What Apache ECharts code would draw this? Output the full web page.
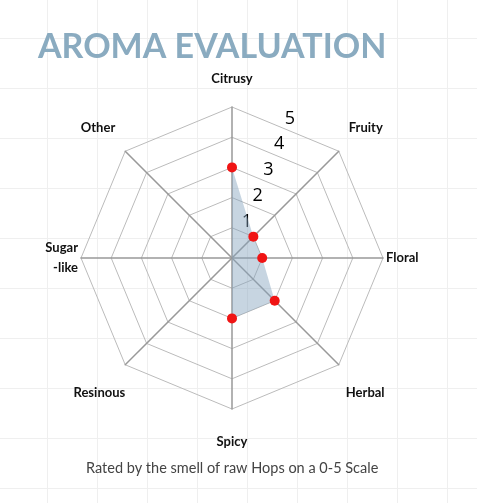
<!DOCTYPE html>
<html>
<head>
<meta charset="utf-8">
<script src="https://cdn.jsdelivr.net/npm/echarts@6/dist/echarts.min.js"></script>
<style>
    html, body { margin: 0; padding: 0; }
    body {
        background-color: #fff;
        background-image: linear-gradient(to right, #efefef 1px, transparent 1px),
                          linear-gradient(to bottom, #efefef 1px, transparent 1px);
        background-size: 50px 50px;
        background-position: 47px 38px;
    }
    #main { width: 477px; height: 503px; }
</style>
</head>
<body>
<div id="main"></div>
<script>
// aroma categories, clockwise from the top
var categories = ['Citrusy', 'Fruity', 'Floral', 'Herbal', 'Spicy', 'Resinous', 'Sugar\n-like', 'Other'];
var values = [3, 1, 1, 2, 2, 0, 0, 0];
var scaleMax = 5;
var scaleTicks = [1, 2, 3, 4, 5];

// label box per category (chart.js style placement of the point labels)
var labelStyle = ['top', 'tr', 'right', 'br', 'bottom', 'bl', 'left', 'tl'];

// echarts lays radar indicators out counter-clockwise, so flip all but the first
function ccw(arr) {
    return [arr[0]].concat(arr.slice(1).reverse());
}

var indicator = ccw(categories).map(function (name) {
    return {name: name, min: 0, max: scaleMax};
});

// dots only where a rating was given: [radius, angle category]
var dots = [];
values.forEach(function (v, i) {
    if (v > 0) dots.push([v, categories[i]]);
});

var nameFont = {
    color: '#111',
    fontFamily: 'Lato',
    fontWeight: 'bold',
    fontSize: 13,
    lineHeight: 20
};
function rich(padding) {
    return Object.assign({padding: padding}, nameFont);
}

var C = [232, 258], R = 151;

var myChart = echarts.init(document.getElementById('main'), null, {renderer: 'canvas'});
var option = {
    backgroundColor: 'transparent',
    title: [{
        text: 'AROMA EVALUATION',
        left: 33,
        top: 25,
        textStyle: {
            color: '#8aabc0',
            fontFamily: 'Lato',
            fontWeight: 'bold',
            fontSize: 34
        }
    }, {
        text: 'Rated by the smell of raw Hops on a 0-5 Scale',
        left: 81,
        top: 456,
        textStyle: {
            color: '#444',
            fontFamily: 'Lato',
            fontWeight: 'normal',
            fontSize: 14.5
        }
    }],
    radar: {
        center: C,
        radius: R,
        startAngle: 90,
        shape: 'polygon',
        splitNumber: 5,
        nameGap: 0,
        indicator: indicator,
        axisName: Object.assign({
            formatter: function (name) {
                var i = categories.indexOf(name);
                return name.split('\n').map(function (line) {
                    return '{' + labelStyle[i] + '|' + line + '}';
                }).join('\n');
            },
            rich: {
                top: rich([0, 0, 36, 0]),
                tr: rich([0, 0, 47, 10]),
                right: rich([0, 0, 0, 3]),
                br: rich([57, 0, 0, 7]),
                bottom: rich([46, 0, 0, 0]),
                bl: rich([57, 0, 0, 0]),
                left: rich([0, 3, 0, 0]),
                tl: rich([0, 10, 47, 0])
            }
        }, nameFont),
        axisLine: {lineStyle: {color: '#999', width: 1.5}},
        splitLine: {lineStyle: {color: '#bbb', width: 1}},
        splitArea: {show: false}
    },
    polar: [
        {center: C, radius: R},   // 1-5 scale labels between Citrusy and Fruity
        {center: C, radius: R}    // red rating dots
    ],
    angleAxis: [{
        polarIndex: 0,
        type: 'value',
        startAngle: 67.5,
        show: false
    }, {
        polarIndex: 1,
        type: 'category',
        data: categories,
        startAngle: 90 + 180 / categories.length,
        clockwise: true,
        show: false
    }],
    radiusAxis: [{
        polarIndex: 0,
        type: 'value',
        min: -0.4,
        max: scaleMax,
        axisLine: {show: false},
        axisTick: {show: false},
        splitLine: {show: false},
        axisLabel: {
            customValues: scaleTicks,
            margin: 0,
            align: 'center',
            verticalAlign: 'middle',
            color: '#000',
            fontFamily: 'Open Sans',
            fontSize: 18
        }
    }, {
        polarIndex: 1,
        type: 'value',
        min: 0,
        max: scaleMax,
        show: false
    }],
    series: [{
        type: 'radar',
        symbol: 'none',
        lineStyle: {width: 0, opacity: 0},
        areaStyle: {color: 'rgba(130,162,188,0.45)', opacity: 1},
        silent: true,
        data: [{value: ccw(values)}]
    }, {
        type: 'scatter',
        coordinateSystem: 'polar',
        polarIndex: 1,
        symbol: 'circle',
        symbolSize: 10,
        itemStyle: {color: '#f01414', opacity: 1},
        z: 3,
        data: dots
    }]
};
myChart.setOption(option);
</script>
</body>
</html>
